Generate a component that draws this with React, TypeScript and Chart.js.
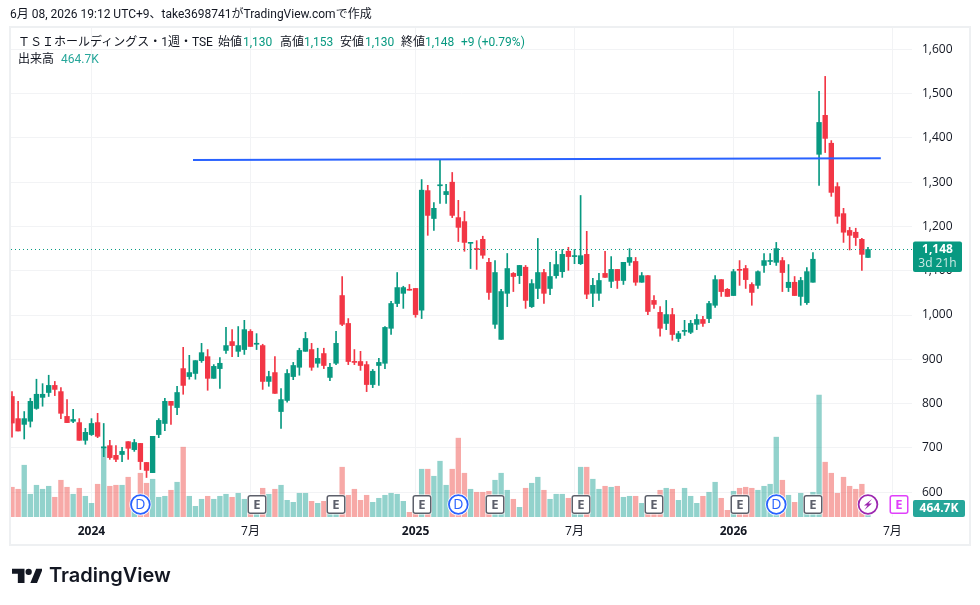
import React, { useEffect, useRef } from "react";
import { Chart, registerables } from "chart.js";

Chart.register(...registerables);

const FONT = '"Open Sans","Noto Sans CJK JP",sans-serif';
const TEXT_FONT = 'Roboto,"Noto Sans CJK JP",sans-serif';
const INK = "#131722";
const UP = "#089981";
const DOWN = "#f23645";

const opens = [
  816, 766, 753, 760, 789, 814, 825, 841, 827, 771,
  760, 757, 717, 730, 757, 700, 705, 683, 685, 714,
  696, 710, 667, 644, 730, 755, 805, 791, 879, 861,
  868, 897, 906, 857, 879, 920, 940, 918, 922, 963,
  934, 931, 850, 870, 782, 807, 861, 882, 918, 922,
  891, 913, 859, 891, 1044, 981, 895, 895, 888, 843,
  886, 891, 970, 1026, 1049, 1057, 1060, 1011, 1281, 1218,
  1292, 1272, 1300, 1220, 1211, 1162, 1150, 1171, 1119, 979,
  945, 1049, 1094, 1089, 1108, 1019, 1060, 1096, 1060, 1089,
  1098, 1144, 1132, 1116, 1137, 1049, 1049, 1094, 1076, 1103,
  1078, 1119, 1121, 1074, 1089, 1033, 1006, 981, 1001, 947,
  963, 961, 979, 990, 992, 1022, 1080, 1058, 1044, 1103,
  1105, 1069, 1067, 1112, 1121, 1119, 1123, 1062, 1074, 1042,
  1028, 1074, 1363, 1451, 1388, 1290, 1229, 1191, 1187, 1171,
  1130,
];
const closes = [
  756, 738, 766, 805, 821, 821, 841, 832, 778, 757,
  764, 717, 735, 755, 726, 701, 678, 674, 692, 699,
  712, 669, 649, 726, 762, 805, 796, 825, 841, 870,
  897, 915, 857, 884, 891, 931, 931, 931, 967, 929,
  935, 850, 861, 823, 809, 868, 886, 920, 947, 882,
  902, 886, 882, 936, 979, 895, 893, 886, 843, 873,
  893, 972, 1026, 1062, 1062, 1056, 1001, 1282, 1225, 1241,
  1293, 1279, 1225, 1198, 1164, 1164, 1148, 1135, 1051, 1096,
  1053, 1105, 1087, 1112, 1033, 1071, 1096, 1049, 1087, 1114,
  1137, 1132, 1134, 1134, 1047, 1067, 1078, 1085, 1103, 1078,
  1119, 1130, 1074, 1089, 1008, 1024, 970, 1001, 956, 958,
  964, 981, 990, 981, 1026, 1080, 1053, 1042, 1098, 1101,
  1080, 1051, 1098, 1123, 1123, 1150, 1096, 1074, 1044, 1078,
  1098, 1126, 1435, 1399, 1277, 1223, 1187, 1180, 1175, 1137,
  1148,
];
const highs = [
  827, 805, 782, 812, 855, 845, 864, 850, 836, 809,
  787, 766, 744, 766, 778, 755, 717, 705, 701, 714,
  719, 710, 667, 726, 766, 812, 805, 839, 927, 909,
  897, 936, 922, 888, 904, 972, 967, 974, 988, 967,
  958, 934, 873, 906, 834, 877, 893, 925, 961, 936,
  925, 925, 891, 963, 1087, 992, 922, 918, 895, 877,
  902, 974, 1031, 1096, 1065, 1069, 1060, 1306, 1293, 1254,
  1351, 1295, 1322, 1259, 1234, 1164, 1168, 1178, 1128, 1123,
  1058, 1139, 1096, 1112, 1112, 1080, 1173, 1103, 1119, 1144,
  1148, 1153, 1148, 1270, 1189, 1083, 1094, 1144, 1132, 1103,
  1119, 1150, 1130, 1096, 1089, 1044, 1019, 1033, 1015, 963,
  988, 988, 1001, 997, 1031, 1089, 1080, 1060, 1103, 1123,
  1112, 1073, 1100, 1139, 1139, 1164, 1130, 1114, 1087, 1085,
  1107, 1141, 1505, 1539, 1394, 1299, 1241, 1198, 1196, 1173,
  1153,
];
const lows = [
  724, 738, 720, 747, 787, 794, 816, 818, 766, 757,
  757, 717, 708, 728, 723, 680, 674, 669, 669, 674,
  692, 651, 633, 644, 723, 739, 753, 775, 821, 855,
  855, 893, 830, 857, 834, 913, 906, 906, 911, 929,
  922, 832, 839, 823, 744, 803, 854, 864, 918, 875,
  882, 879, 852, 888, 976, 888, 888, 875, 827, 836,
  841, 879, 956, 1019, 1015, 1056, 995, 992, 1180, 1191,
  1252, 1252, 1220, 1166, 1144, 1105, 1103, 1128, 1035, 970,
  945, 1019, 1053, 1071, 1015, 1017, 1037, 1026, 1046, 1083,
  1085, 1101, 1116, 1114, 1037, 1019, 1033, 1085, 1062, 1060,
  1069, 1112, 1067, 1074, 1001, 1015, 952, 967, 943, 940,
  954, 958, 967, 974, 983, 1017, 1042, 1042, 1044, 1067,
  1060, 1022, 1060, 1096, 1114, 1112, 1053, 1053, 1044, 1022,
  1024, 1074, 1293, 1367, 1268, 1207, 1164, 1147, 1157, 1101,
  1130,
];
// Weekly volume, thousands of shares
const volumes = [
  1531, 1428, 2666, 1170, 1634, 1428, 1582, 1015, 1892, 1531,
  1170, 1479, 1066, 705, 1686, 3595, 1582, 1634, 1634, 2047,
  600, 2253, 1737, 1944, 1015, 1066, 1376, 1789, 3595, 1066,
  550, 912, 1066, 912, 1066, 1170, 1015, 1221, 912, 688,
  516, 1479, 1170, 1428, 1634, 860, 757, 1221, 1221, 808,
  705, 808, 516, 430, 2563, 1118, 1428, 860, 1118, 757,
  963, 1118, 1221, 1170, 808, 241, 241, 2460, 2460, 2098,
  2872, 1634, 2460, 4059, 2253, 1428, 1273, 1273, 1324, 1892,
  2253, 1376, 912, 499, 1479, 1737, 2047, 1376, 912, 1170,
  1170, 963, 516, 2563, 2563, 1944, 1428, 1582, 1531, 1582,
  1015, 1066, 1066, 705, 516, 516, 1376, 1479, 1428, 860,
  1479, 1066, 705, 1066, 1273, 1789, 963, 344, 1324, 1479,
  1531, 1479, 1376, 1582, 1686, 4111, 1892, 1118, 757, 1221,
  860, 1273, 6278, 2821, 2253, 1221, 2047, 1582, 1428, 1686,
  465,
];

const priceTicks = [600, 700, 800, 900, 1000, 1100, 1200, 1300, 1400, 1500, 1600];
const timeTickIndex = [13, 39, 66, 92, 118, 144];
const timeTickLabels = ["2024", "7月", "2025", "7月", "2026", "7月"];
const trendIndex = [29.6, 142.1];
const trendPrice = [1350, 1354];
const lastPrice = 1148;
const lastVolumeLabel = "464.7K";
const countdown = "3d 21h";
const earningsIndex = [40, 53, 67, 79, 93, 105, 119, 131];
const dividendIndex = [21, 73, 125];
const splitIndex = [140];
const futureEarningsIndex = [145];

const xMin = -0.164;
const xMax = 147.2;

const markersPlugin = {
  id: "markers",
  afterDatasetsDraw(chart: any) {
    const { ctx, scales } = chart;
    const cy = chart.chartArea.bottom - 12.5;
    const box = (i: number, color: string) => {
      const x = Math.round(scales.x.getPixelForValue(i));
      ctx.save();
      ctx.beginPath();
      ctx.roundRect(x - 10, cy - 10, 20, 20, 3);
      ctx.fillStyle = "#fff";
      ctx.fill();
      ctx.beginPath();
      ctx.roundRect(x - 8.75, cy - 8.75, 17.5, 17.5, 2);
      ctx.strokeStyle = color;
      ctx.lineWidth = 1.5;
      ctx.stroke();
      ctx.fillStyle = color;
      ctx.font = `700 13px ${FONT}`;
      ctx.textAlign = "center";
      ctx.textBaseline = "middle";
      ctx.fillText("E", x, cy + 0.5);
      ctx.restore();
    };
    const circle = (i: number, color: string) => {
      const x = scales.x.getPixelForValue(i);
      ctx.save();
      ctx.beginPath();
      ctx.arc(x, cy, 11, 0, Math.PI * 2);
      ctx.fillStyle = "#fff";
      ctx.fill();
      ctx.beginPath();
      ctx.arc(x, cy, 9.4, 0, Math.PI * 2);
      ctx.strokeStyle = color;
      ctx.lineWidth = 1.8;
      ctx.stroke();
      ctx.restore();
      return x;
    };
    earningsIndex.forEach((i) => box(i, "#5d606b"));
    futureEarningsIndex.forEach((i) => box(i, "#e040fb"));
    dividendIndex.forEach((i) => {
      const x = circle(i, "#2962ff");
      ctx.save();
      ctx.fillStyle = "#2962ff";
      ctx.font = `500 14px ${FONT}`;
      ctx.textAlign = "center";
      ctx.textBaseline = "middle";
      ctx.fillText("D", x, cy + 0.5);
      ctx.restore();
    });
    splitIndex.forEach((i) => {
      const x = circle(i, "#9c27b0");
      ctx.save();
      ctx.fillStyle = "#9c27b0";
      ctx.beginPath();
      ctx.moveTo(x + 4, cy - 5.5);
      ctx.lineTo(x - 4, cy + 1);
      ctx.lineTo(x - 0.5, cy + 1);
      ctx.lineTo(x - 3.5, cy + 5.5);
      ctx.lineTo(x + 4, cy - 1);
      ctx.lineTo(x + 0.5, cy - 1);
      ctx.closePath();
      ctx.fill();
      ctx.restore();
    });
  },
};

const framePlugin = {
  id: "frame",
  beforeDraw(chart: any) {
    const { ctx } = chart;
    ctx.save();
    ctx.strokeStyle = "#eef0f2";
    ctx.lineWidth = 2;
    ctx.strokeRect(10, 27, 960, 518);
    ctx.restore();
  },
  afterDraw(chart: any) {
    const { ctx, scales } = chart;
    const y = scales.y.getPixelForValue(lastPrice);
    ctx.save();
    ctx.fillStyle = UP;
    ctx.beginPath();
    ctx.roundRect(913, y - 8, 49, 30.5, 2);
    ctx.fill();
    ctx.textAlign = "center";
    ctx.textBaseline = "middle";
    ctx.fillStyle = "#fff";
    ctx.font = `700 12px ${FONT}`;
    ctx.fillText(lastPrice.toLocaleString("en-US"), 937.5, y);
    ctx.fillStyle = "rgba(255,255,255,0.8)";
    ctx.font = `500 12px ${FONT}`;
    ctx.fillText(countdown, 937.5, y + 14.5);
    ctx.fillStyle = "#26a69a";
    ctx.beginPath();
    ctx.roundRect(913, 500, 52, 17, 2);
    ctx.fill();
    ctx.fillStyle = "#fff";
    ctx.font = `700 12px ${FONT}`;
    ctx.fillText(lastVolumeLabel, 939, 509);
    ctx.restore();
  },
};

const abs = (left: number, top: number, color = INK): React.CSSProperties => ({
  position: "absolute",
  left,
  top,
  color,
  whiteSpace: "nowrap",
  lineHeight: "16px",
});

const LEGEND_UP = "#089981";
const VOL_UP = "#26a69a";

export default function App() {
  const ref = useRef<HTMLCanvasElement>(null);
  useEffect(() => {
    if (!ref.current) return;
    const isUp = (i: number) => closes[i] >= opens[i];
    const candleColors = opens.map((_, i) => (isUp(i) ? UP : DOWN));
    const chart = new Chart(ref.current, {
      type: "bar",
      data: {
        datasets: [
          {
            type: "line",
            order: 0,
            data: trendIndex.map((x, i) => ({ x, y: trendPrice[i] })),
            borderColor: "#2962ff",
            borderWidth: 2,
            pointRadius: 0,
          },
          {
            type: "line",
            order: 0,
            data: [
              { x: xMin, y: lastPrice },
              { x: xMax, y: lastPrice },
            ],
            borderColor: UP,
            borderWidth: 1,
            borderDash: [1, 3],
            pointRadius: 0,
          },
          {
            order: 1,
            grouped: false,
            barThickness: 4.7,
            minBarLength: 1,
            data: opens.map((o, i) => ({ x: i, y: [o, closes[i]] })),
            backgroundColor: candleColors,
          },
          {
            order: 2,
            grouped: false,
            barThickness: 1,
            data: lows.map((l, i) => ({ x: i, y: [l, highs[i]] })),
            backgroundColor: candleColors,
          },
          {
            order: 3,
            grouped: false,
            barThickness: 4.7,
            yAxisID: "vol",
            data: volumes.map((v, i) => ({ x: i, y: v })),
            backgroundColor: opens.map((_, i) =>
              isUp(i) ? "rgba(38,166,154,0.5)" : "rgba(239,83,80,0.5)"
            ),
          },
        ] as any,
      },
      options: {
        animation: false,
        responsive: false,
        devicePixelRatio: 1,
        layout: { padding: { left: 11, right: 11, top: 28, bottom: 60 } },
        plugins: { legend: { display: false }, tooltip: { enabled: false } },
        scales: {
          x: {
            type: "linear",
            min: xMin,
            max: xMax,
            offset: false,
            border: { display: false },
            grid: { color: "#f2f3f5", offset: false, drawTicks: false },
            afterBuildTicks: (s: any) => {
              s.ticks = timeTickIndex.map((value) => ({ value }));
            },
            afterFit: (s: any) => {
              s.height = 28;
            },
            ticks: {
              autoSkip: false,
              maxRotation: 0,
              padding: 7,
              color: INK,
              callback: (v: any) => timeTickLabels[timeTickIndex.indexOf(Number(v))] ?? "",
              font: (c: any) => ({
                family: FONT,
                size: 12,
                weight: /^\d+$/.test(timeTickLabels[c.index] ?? "") ? "bold" : "normal",
              }),
            },
          } as any,
          y: {
            position: "right",
            min: 543.8,
            max: 1648.3,
            border: { display: false },
            grid: { color: "#f2f3f5", drawTicks: false },
            afterBuildTicks: (s: any) => {
              s.ticks = priceTicks.map((value) => ({ value }));
            },
            afterFit: (s: any) => {
              s.width = 57;
            },
            ticks: {
              padding: 10,
              color: INK,
              font: { family: FONT, size: 12 },
              callback: (v: any) => Number(v).toLocaleString("en-US"),
            },
          } as any,
          vol: {
            display: false,
            min: 0,
            max: 25180,
          },
        },
      },
      plugins: [framePlugin, markersPlugin],
    } as any);
    return () => chart.destroy();
  }, []);

  return (
    <div
      style={{
        position: "fixed",
        inset: 0,
        width: 980,
        height: 605,
        background: "#fff",
        fontFamily: TEXT_FONT,
        fontSize: 12,
        overflow: "hidden",
      }}
    >
      <canvas ref={ref} width={980} height={605} style={{ position: "absolute", left: 0, top: 0 }} />
      <div style={abs(10, 6)}>6月 08, 2026 19:12 UTC+9、take3698741がTradingView.comで作成</div>
      <div style={abs(18, 34)}>ＴＳＩホールディングス・1週・TSE</div>
      <div style={abs(218, 34)}>始値</div>
      <div style={abs(243, 34, LEGEND_UP)}>1,130</div>
      <div style={abs(280, 34)}>高値</div>
      <div style={abs(304, 34, LEGEND_UP)}>1,153</div>
      <div style={abs(340, 34)}>安値</div>
      <div style={abs(365, 34, LEGEND_UP)}>1,130</div>
      <div style={abs(401, 34)}>終値</div>
      <div style={abs(425, 34, LEGEND_UP)}>1,148</div>
      <div style={abs(461, 34, LEGEND_UP)}>+9 (+0.79%)</div>
      <div style={abs(18, 51)}>出来高</div>
      <div style={abs(61, 51, VOL_UP)}>464.7K</div>
      <svg
        width="30"
        height="16"
        viewBox="0 0 36 19"
        style={{ position: "absolute", left: 12, top: 567 }}
      >
        <path
          fill={INK}
          d="M15 2H0v6h7v11h8V2Zm15 17h-8l7-17h8l-7 17ZM20 9.5a3.8 3.8 0 1 0 0-7.6 3.8 3.8 0 0 0 0 7.6Z"
        />
      </svg>
      <div
        style={{
          position: "absolute",
          left: 49,
          top: 561,
          fontFamily: '"Inter",sans-serif',
          fontWeight: 600,
          fontSize: 20,
          lineHeight: "28px",
          color: INK,
          whiteSpace: "nowrap",
        }}
      >
        TradingView
      </div>
    </div>
  );
}
